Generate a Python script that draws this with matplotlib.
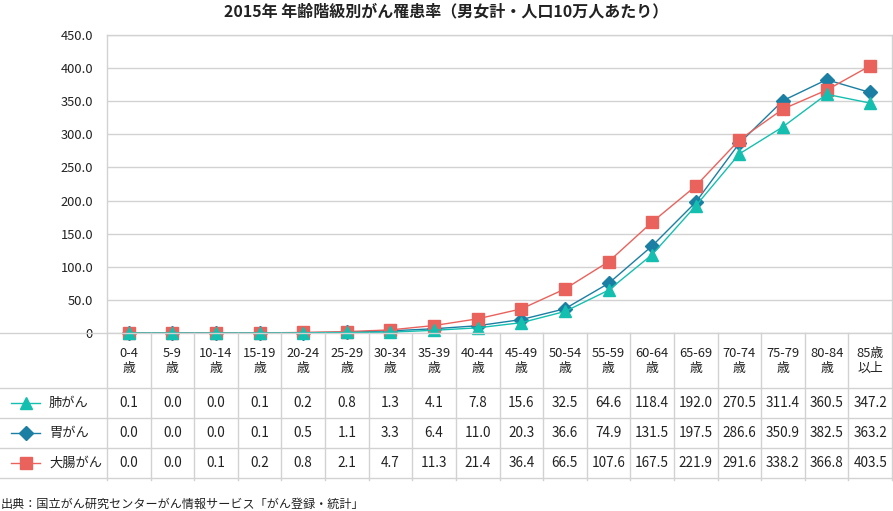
import matplotlib
matplotlib.use("Agg")
import matplotlib.pyplot as plt
from matplotlib.lines import Line2D

plt.rcParams['font.family'] = ['Noto Sans CJK JP', 'DejaVu Sans']

categories = ["0-4\n歳", "5-9\n歳", "10-14\n歳", "15-19\n歳", "20-24\n歳", "25-29\n歳",
              "30-34\n歳", "35-39\n歳", "40-44\n歳", "45-49\n歳", "50-54\n歳", "55-59\n歳",
              "60-64\n歳", "65-69\n歳", "70-74\n歳", "75-79\n歳", "80-84\n歳", "85歳\n以上"]
lung = [0.1, 0.0, 0.0, 0.1, 0.2, 0.8, 1.3, 4.1, 7.8, 15.6, 32.5, 64.6, 118.4, 192.0, 270.5, 311.4, 360.5, 347.2]
stomach = [0.0, 0.0, 0.0, 0.1, 0.5, 1.1, 3.3, 6.4, 11.0, 20.3, 36.6, 74.9, 131.5, 197.5, 286.6, 350.9, 382.5, 363.2]
colorectal = [0.0, 0.0, 0.1, 0.2, 0.8, 2.1, 4.7, 11.3, 21.4, 36.4, 66.5, 107.6, 167.5, 221.9, 291.6, 338.2, 366.8, 403.5]
series_names = ["肺がん", "胃がん", "大腸がん"]
yticks = [0, 50, 100, 150, 200, 250, 300, 350, 400, 450]
ytick_labels = ["0", "50.0", "100.0", "150.0", "200.0", "250.0", "300.0", "350.0", "400.0", "450.0"]
title = "2015年 年齢階級別がん罹患率（男女計・人口10万人あたり）"
source = "出典：国立がん研究センターがん情報サービス「がん登録・統計」"

W, H = 893, 511
fig = plt.figure(figsize=(W / 100, H / 100), dpi=100)
grid_c = "#d2d2d2"
teal = "#14bfb0"
blue = "#1a7fa3"
red = "#ea625c"
txt_c = "#222222"

# main plot area (pixel layout)
L, R, T, B = 107, 892, 35, 333
ax = fig.add_axes([L / W, 1 - B / H, (R - L) / W, (B - T) / H])
n = len(categories)
x = list(range(n))
ax.set_xlim(-0.5, n - 0.5)
ax.set_ylim(0, 450)
ax.set_yticks(yticks)
ax.set_yticklabels(ytick_labels, fontsize=9.3, color=txt_c)
ax.set_xticks([])
ax.tick_params(axis='y', length=0, pad=10)
for s in ax.spines.values():
    s.set_color(grid_c)
    s.set_linewidth(1)
ax.spines['bottom'].set_visible(False)
ax.yaxis.grid(True, color=grid_c, linewidth=1)
ax.set_axisbelow(True)

styles = [
    (lung, teal, '^', 9, 4),
    (stomach, blue, 'D', 7.5, 2),
    (colorectal, red, 's', 8, 3),
]
for vals, c, m, ms, z in styles:
    ax.plot(x, vals, color=c, marker=m, markersize=ms, linewidth=1.0, zorder=z, clip_on=False)

# table axes in pixel coordinates
tax = fig.add_axes([0, 0, 1, 1])
tax.set_xlim(0, W)
tax.set_ylim(H, 0)
tax.axis('off')
cw = (R - L) / n
row_lines = [388, 418, 448, 478]
for y in row_lines:
    tax.plot([0, R], [y, y], color=grid_c, linewidth=1)
tax.plot([0, R], [B, B], color=grid_c, linewidth=1)
for i in range(n + 1):
    xv = L + i * cw
    tax.plot([xv, xv], [B, 480], color=grid_c, linewidth=1)
for i, lab in enumerate(categories):
    tax.text(L + (i + 0.5) * cw, 361, lab, ha='center', va='center', fontsize=9.3,
             color=txt_c, linespacing=1.15)
all_vals = [lung, stomach, colorectal]
cols = [teal, blue, red]
marks = ['^', 'D', 's']
msz = [9, 7.5, 8]
for r, (vals, name) in enumerate(zip(all_vals, series_names)):
    yc = (row_lines[r] + row_lines[r + 1]) / 2
    tax.add_line(Line2D([11, 40], [yc, yc], color=cols[r], linewidth=1.0))
    tax.plot([25.5], [yc], marker=marks[r], color=cols[r], markersize=msz[r])
    tax.text(49, yc, name, ha='left', va='center', fontsize=9.5, color=txt_c)
    for i, v in enumerate(vals):
        tax.text(L + (i + 0.5) * cw, yc, f"{v:.1f}", ha='center', va='center',
                 fontsize=9.8, color=txt_c)

fig.text(446 / W, 1 - 11 / H, title, ha='center', va='center', fontsize=11.5,
         fontweight='bold', color=txt_c)
fig.text(1 / W, 1 - 504 / H, source, ha='left', va='center', fontsize=8.7, color=txt_c)

fig.savefig("out.png", dpi=100)
